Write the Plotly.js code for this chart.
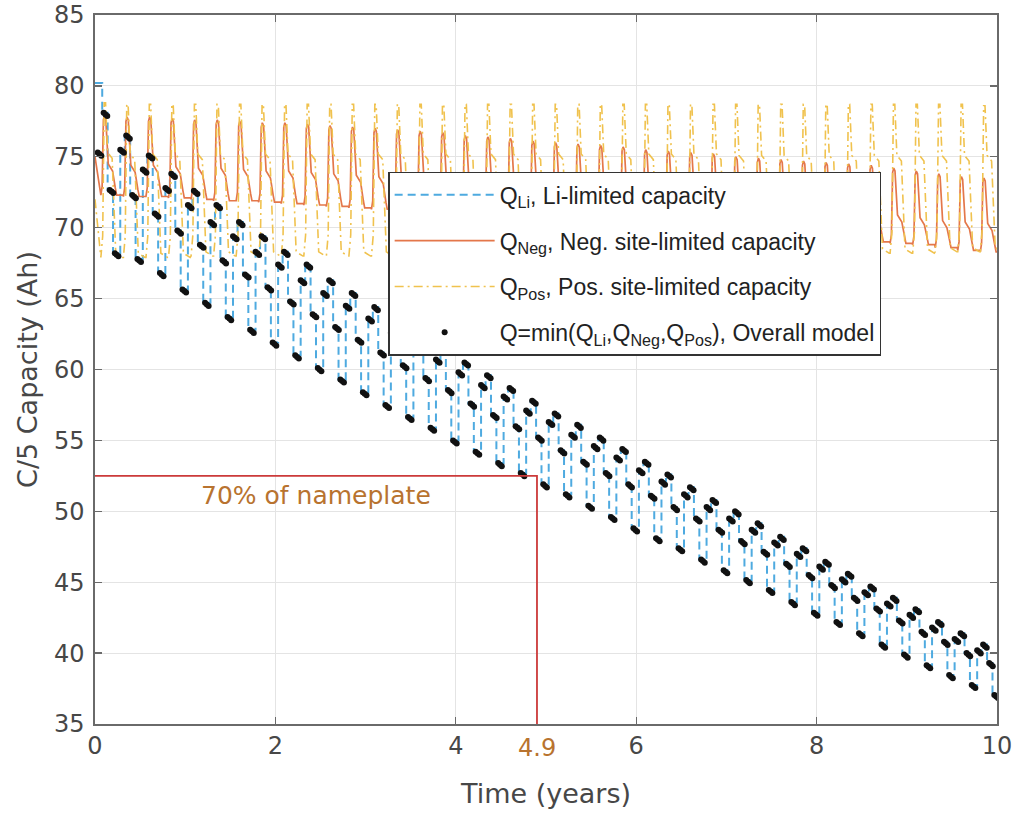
<!DOCTYPE html>
<html><head><meta charset="utf-8">
<script src="https://cdn.plot.ly/plotly-3.0.1.min.js"></script>
<style>html,body{margin:0;padding:0;background:#fff}#chart{width:1021px;height:818px}</style>
</head><body><div id="chart"></div>
<script>
// ---- data ----
const cycleStart = [0.03,0.28,0.53,0.78,1.03,1.28,1.53,1.78,2.03,2.28,2.53,2.78,3.03,3.28,3.53,3.78,4.03,4.28,4.53,4.78,5.03,5.28,5.53,5.78,6.03,6.28,6.53,6.78,7.03,7.28,7.53,7.78,8.03,8.28,8.53,8.78,9.03,9.28,9.53,9.78];
// Overall-model levels within each seasonal cycle
const qStep = [75.3,75.5,74.1,72.8,71.6,70.4,69.4,68.3,67.4,66.3,65.4,64.5,63.6,62.6,61.7,60.7,59.8,58.9,58.1,57.1,56.3,55.4,54.6,53.8,52.9,52.1,51.2,50.3,49.5,48.7,47.8,47.0,46.1,45.2,44.3,43.5,42.7,41.8,41.0,40.2];
const qTop  = [78.1,76.5,75.1,73.8,72.6,71.6,70.4,69.4,68.3,67.4,66.3,65.4,64.4,63.4,62.4,61.4,60.5,59.6,58.7,57.8,56.9,56.1,55.2,54.4,53.5,52.6,51.7,50.8,50.0,49.15,48.2,47.4,46.45,45.6,44.7,43.9,43.1,42.2,41.4,40.6];
const qMid  = [72.66,72.3,71.0,69.8,68.8,67.7,66.7,65.8,64.8,63.9,63.0,62.1,61.2,60.3,59.4,58.55,57.6,56.8,56.0,55.2,54.3,53.5,52.7,51.9,51.1,50.3,49.5,48.7,47.9,47.15,46.3,45.5,44.8,43.9,43.15,42.3,41.5,40.8,40.0,39.3];
const qLow  = [68.2,67.8,66.8,65.65,64.7,63.7,62.8,61.9,61.0,60.1,59.3,58.4,57.5,56.65,55.9,55.0,54.2,53.4,52.7,51.9,51.2,50.4,49.6,48.8,48.1,47.4,46.6,45.85,45.15,44.45,43.6,42.85,42.2,41.4,40.6,39.9,39.15,38.45,37.75,37.05];
const qLiStart = 80.2;
const qLiEnd = 36.95;
// Negative-site-limited capacity per cycle
const negPeak     = [77.9,77.8,77.8,77.7,77.6,77.6,77.5,77.4,77.4,77.3,77.2,77.1,77.0,76.9,76.8,76.7,76.5,76.4,76.3,76.1,76.0,75.9,75.8,75.7,75.5,75.4,75.3,75.2,75.0,74.9,74.8,74.7,74.6,74.5,74.4,74.2,74.0,73.8,73.6,73.5];
const negShoulder = [74.2,74.1,74.1,74.0,73.9,73.9,73.8,73.7,73.7,73.6,73.5,73.4,73.3,73.2,73.1,73.0,72.9,72.8,72.7,72.5,72.4,72.3,72.2,72.1,71.9,71.8,71.7,71.6,71.4,71.3,71.2,71.1,71.0,70.9,70.8,70.6,70.4,70.2,70.1,70.0];
const negTrough   = [72.3,72.2,72.2,72.1,72.0,71.9,71.9,71.8,71.7,71.6,71.5,71.4,71.3,71.2,71.1,71.0,70.9,70.8,70.7,70.6,70.5,70.4,70.3,70.2,70.1,70.0,69.9,69.8,69.7,69.6,69.5,69.4,69.3,69.2,69.0,68.9,68.8,68.6,68.4,68.3];
const negStart = 75.0;
// Positive-site-limited capacity per cycle
const posPeak     = [78.8,78.7,78.7,78.7,78.7,78.7,78.7,78.7,78.7,78.7,78.7,78.7,78.7,78.7,78.7,78.7,78.7,78.7,78.7,78.7,78.7,78.7,78.7,78.7,78.7,78.7,78.7,78.7,78.7,78.7,78.7,78.7,78.7,78.7,78.7,78.7,78.7,78.7,78.7,78.6];
const posShoulder = [75.3,75.2,75.2,75.2,75.2,75.2,75.2,75.2,75.2,75.2,75.2,75.2,75.2,75.2,75.2,75.2,75.2,75.2,75.2,75.2,75.2,75.2,75.2,75.2,75.2,75.2,75.2,75.2,75.1,75.1,75.1,75.1,75.1,75.1,75.1,75.1,75.1,75.1,75.1,75.1];
const posMid      = [72.4,72.4,72.4,72.4,72.4,72.4,72.4,72.4,72.4,72.4,72.4,72.4,72.4,72.4,72.4,72.4,72.4,72.4,72.4,72.4,72.4,72.4,72.4,72.4,72.4,72.4,72.4,72.4,72.4,72.4,72.4,72.4,72.4,72.4,72.4,72.4,72.4,72.4,72.4,72.4];
const posTrough   = [67.9,67.9,67.9,67.9,68.0,68.0,68.0,68.0,68.0,68.0,68.0,68.0,68.0,68.0,68.0,68.0,68.0,68.0,68.0,68.0,68.1,68.1,68.1,68.1,68.1,68.1,68.1,68.1,68.1,68.1,68.2,68.2,68.2,68.2,68.2,68.2,68.2,68.3,68.3,68.3];
const posStart = 72.0;
// 70 % of nameplate marker
const nameplate70 = 52.5;
const time70 = 4.9;
const xTicks = [0,2,4,6,8,10];
const yTicks = [35,40,45,50,55,60,65,70,75,80,85];

// ---- build traces (phase layout inside one cycle, in years) ----
const PH = {B:0, A:0.066, C:0.133, D:0.19};
const liX=[0], liY=[qLiStart];
const dotX=[], dotY=[];
const negX=[0], negY=[negStart];
const posX=[0], posY=[posStart];
function addDots(t,v){ for(let j=0;j<3;j++){ dotX.push(t+0.02*j); dotY.push(v-0.11*j); } }
cycleStart.forEach((s,k)=>{
  if(k>0){ liX.push(s); liY.push(qStep[k]); }
  liX.push(s+0.05); liY.push(qTop[k]);
  liX.push(s+0.11); liY.push(qMid[k]);
  liX.push(s+0.17); liY.push(qLow[k]);
  addDots(s+PH.B,qStep[k]); addDots(s+PH.A,qTop[k]); addDots(s+PH.C,qMid[k]); addDots(s+PH.D,qLow[k]);
  const p = s+0.075;
  const P=negPeak[k], S=negShoulder[k], T=negTrough[k];
  [[-0.04,T],[-0.026,T+0.6],[-0.012,P-0.3],[0,P],[0.014,P-0.2],[0.042,S+0.3],[0.09,S-0.2],[0.12,T+0.5],[0.135,T],[0.205,T]]
    .forEach(([dx,v])=>{negX.push(p+dx); negY.push(v);});
  const PP=posPeak[k], PS=posShoulder[k], PM=posMid[k], PT=posTrough[k];
  [[-0.04,PT],[-0.02,PT+1.5],[-0.01,PM+1.5],[-0.003,PP],[0.012,PP],[0.035,PS],[0.085,PS-0.4],[0.1,PM],[0.125,PT+0.3],[0.2,PT]]
    .forEach(([dx,v])=>{posX.push(p+dx); posY.push(v);});
});
liX.push(10); liY.push(qLiEnd);

const FONT = 'DejaVu Sans, Liberation Sans, Arial, sans-serif';
const LFONT = 'Liberation Sans, Arial, Helvetica, sans-serif';
const traces = [
  {x:liX, y:liY, mode:'lines', line:{shape:'hv', color:'#4eaae0', width:2, dash:'8px,5px'},
   name:'Q<sub>Li</sub>, Li-limited capacity', legendgroup:'a', hoverinfo:'skip'},
  {x:negX, y:negY, mode:'lines', line:{color:'#e4774a', width:1.7},
   name:'Q<sub>Neg</sub>, Neg. site-limited capacity', legendgroup:'b', hoverinfo:'skip'},
  {x:posX, y:posY, mode:'lines', line:{color:'#f0c24e', width:1.6, dash:'9px,4px,2px,4px'},
   name:'Q<sub>Pos</sub>, Pos. site-limited capacity', legendgroup:'c', hoverinfo:'skip'},
  {x:dotX, y:dotY, mode:'markers', marker:{color:'#111', size:6},
   name:'Q=min(Q<sub>Li</sub>,Q<sub>Neg</sub>,Q<sub>Pos</sub>), Overall model', legendgroup:'d', hoverinfo:'skip'},
  {x:[0,time70,time70], y:[nameplate70,nameplate70,35], mode:'lines', line:{color:'#cc3a3a', width:1.8},
   showlegend:false, hoverinfo:'skip'}
];

const axisCommon = {
  showgrid:true, gridcolor:'#e4e4e4', gridwidth:1, zeroline:false,
  showline:true, linecolor:'#6a6a6a', linewidth:1.6, mirror:'ticks',
  ticks:'inside', ticklen:7, tickwidth:1.2, tickcolor:'#6a6a6a',
  tickfont:{family:FONT, size:24, color:'#474747'}
};
const layout = {
  width:1021, height:818,
  margin:{l:95, r:24, t:15, b:94},
  paper_bgcolor:'#fff', plot_bgcolor:'#fff',
  font:{family:FONT, color:'#333'},
  xaxis:Object.assign({}, axisCommon, {range:[0,10], tickvals:xTicks, ticktext:xTicks.map(String),
    title:{text:'Time (years)', font:{family:FONT, size:27, color:'#474747'}, standoff:24}}),
  yaxis:Object.assign({}, axisCommon, {range:[35,85], tickvals:yTicks, ticktext:yTicks.map(String),
    ticklabelstandoff:4,
    title:{text:'C/5 Capacity (Ah)', font:{family:FONT, size:27, color:'#474747'}, standoff:8}}),
  legend:{x:0.325, y:0.779, xanchor:'left', yanchor:'top', bgcolor:'#fff', bordercolor:'#333', borderwidth:1.5,
    font:{family:LFONT, size:23, color:'#222'}, itemwidth:100, traceorder:'grouped', tracegroupgap:13},
  showlegend:true,
  annotations:[
    {x:2.45, y:51.08, xref:'x', yref:'y', text:'70% of nameplate', showarrow:false,
     font:{family:FONT, size:25, color:'#b8732f'}},
    {x:time70, y:0, xref:'x', yref:'paper', yanchor:'top', yshift:-8, text:String(time70), showarrow:false,
     font:{family:FONT, size:24, color:'#b8732f'}}
  ]
};
Plotly.newPlot('chart', traces, layout, {staticPlot:true, displayModeBar:false});
</script>
</body></html>
